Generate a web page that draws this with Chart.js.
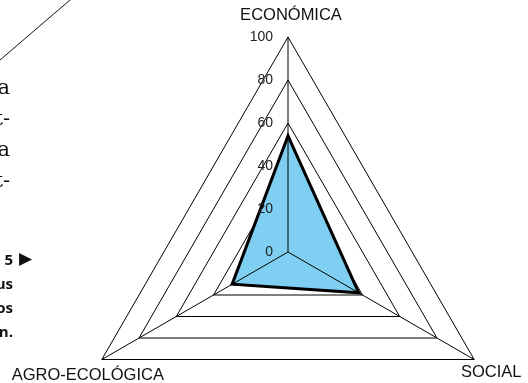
<!DOCTYPE html>
<html>
<head>
<meta charset="utf-8">
<script src="https://cdn.jsdelivr.net/npm/chart.js"></script>
<style>
  html, body { margin: 0; padding: 0; background: #fff; }
  body { width: 528px; height: 383px; position: relative; overflow: hidden; }
  canvas { position: absolute; left: 0; top: 0; }
  .frag { position: absolute; left: -200px; text-align: right; white-space: nowrap; color: #111; }
  .serif { width: 210px; top: 72px; font: 21px/31px "DejaVu Serif", "Liberation Serif", serif; }
  .bold { width: 213px; top: 247px; font: bold 15px/24px "Open Sans", "Noto Sans", sans-serif; }
  .arrow { position: absolute; left: 19px; top: 246px; font: 17px/24px "DejaVu Sans", sans-serif; color: #111; }
  svg { position: absolute; left: 0; top: 0; }
</style>
</head>
<body>
<canvas id="myChart" width="528" height="383"></canvas>
<svg width="80" height="70"><line x1="0" y1="60" x2="70" y2="0" stroke="#111" stroke-width="1"/></svg>
<div class="frag serif">a<br>t-<br>a<br>t-</div>
<div class="frag bold">5<br>us<br>os<br>n.</div>
<div class="arrow">&#9654;</div>
<script>
const categories = ["ECONÓMICA", "SOCIAL", "AGRO-ECOLÓGICA"];
const values = [54, 38, 30];
const tickValues = [0, 20, 40, 60, 80, 100];

// where the radar sits on the page
const centerX = 288;
const centerY = 252;
const radius = 215;

// label offsets from the outer vertex (x, y)
const labelOffsets = [[3, -22], [17, 13], [-14, 16]];

// draw angle lines, tick labels and axis names on top of the fill
const overlayPlugin = {
  id: "overlay",
  afterDatasetsDraw(chart) {
    const ctx = chart.ctx;
    const scale = chart.scales.r;
    ctx.save();
    ctx.strokeStyle = "#000";
    ctx.lineWidth = 1;
    for (let i = 0; i < categories.length; i++) {
      const p = scale.getPointPositionForValue(i, 100);
      ctx.beginPath();
      ctx.moveTo(scale.xCenter, scale.yCenter);
      ctx.lineTo(p.x, p.y);
      ctx.stroke();
    }

    ctx.fillStyle = "#222";
    ctx.font = '14px "Liberation Sans", Arial, sans-serif';
    ctx.textAlign = "right";
    ctx.textBaseline = "middle";
    for (const v of tickValues) {
      const d = scale.getDistanceFromCenterForValue(v);
      ctx.fillText(String(v), scale.xCenter - 15, scale.yCenter - d);
    }

    ctx.fillStyle = "#111";
    ctx.font = '16.5px "Liberation Sans", Arial, sans-serif';
    ctx.textAlign = "center";
    for (let i = 0; i < categories.length; i++) {
      const p = scale.getPointPositionForValue(i, 100);
      ctx.fillText(categories[i], p.x + labelOffsets[i][0], p.y + labelOffsets[i][1]);
    }
    ctx.restore();
  },
};

const ctx = document.getElementById("myChart").getContext("2d");
const myChart = new Chart(ctx, {
  type: "radar",
  data: {
    labels: categories,
    datasets: [
      {
        data: values,
        backgroundColor: "#7ecff2",
        borderColor: "#000",
        borderWidth: 3,
        pointRadius: 0,
        fill: true,
      },
    ],
  },
  options: {
    responsive: false,
    animation: false,
    plugins: {
      legend: { display: false },
      tooltip: { enabled: false },
    },
    scales: {
      r: {
        min: 0,
        max: 100,
        ticks: { stepSize: 20, display: false },
        pointLabels: { display: false },
        angleLines: { display: false },
        grid: { color: "#000", lineWidth: 1 },
        afterFit: (scale) => {
          scale.xCenter = centerX;
          scale.yCenter = centerY;
          scale.drawingArea = radius;
        },
      },
    },
  },
  plugins: [overlayPlugin],
});
</script>
</body>
</html>
